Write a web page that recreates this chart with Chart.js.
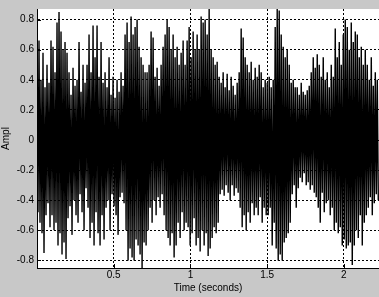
<!DOCTYPE html>
<html>
<head>
<meta charset="utf-8">
<script src="https://cdn.jsdelivr.net/npm/chart.js@4/dist/chart.umd.min.js"></script>
<style>
  html, body { margin: 0; padding: 0; background: #c8c8c8; }
  #chart { display: block; }
</style>
</head>
<body>
<canvas id="chart" width="379" height="297"></canvas>
<script>
// waveform, one sample per screen column (downsampled)
const sampleRate = 153.3; // samples per second in this view
const ampl = [
  0.62, -0.48, 0.66, -0.55, 0.4, -0.62, 0.58, -0.75, 0.35, -0.5,
  0.5, -0.42, 0.38, -0.58, 0.66, -0.5, 0.62, -0.6, 0.45, -0.55,
  0.78, -0.7, 0.85, -0.62, 0.72, -0.76, 0.6, -0.68, 0.65, -0.79,
  0.58, -0.52, 0.45, -0.44, 0.3, -0.63, 0.48, -0.4, 0.36, -0.5,
  0.4, -0.55, 0.65, -0.36, 0.32, -0.48, 0.5, -0.6, 0.38, -0.32,
  0.5, -0.45, 0.7, -0.65, 0.45, -0.55, 0.76, -0.7, 0.55, -0.48,
  0.76, -0.62, 0.42, -0.7, 0.65, -0.5, 0.38, -0.66, 0.45, -0.45,
  0.35, -0.4, 0.55, -0.6, 0.3, -0.36, 0.42, -0.44, 0.28, -0.5,
  0.4, -0.63, 0.32, -0.38, 0.45, -0.35, 0.36, -0.42, 0.7, -0.6,
  0.78, -0.8, 0.65, -0.72, 0.82, -0.78, 0.7, -0.8, 0.75, -0.66,
  0.8, -0.7, 0.62, -0.76, 0.55, -0.86, 0.5, -0.68, 0.45, -0.7,
  0.45, -0.6, 0.5, -0.45, 0.72, -0.55, 0.68, -0.4, 0.42, -0.5,
  0.48, -0.38, 0.36, -0.45, 0.5, -0.36, 0.62, -0.5, 0.7, -0.6,
  0.8, -0.65, 0.75, -0.7, 0.6, -0.62, 0.7, -0.78, 0.55, -0.7,
  0.62, -0.55, 0.5, -0.65, 0.58, -0.48, 0.66, -0.6, 0.5, -0.55,
  0.66, -0.58, 0.75, -0.7, 0.55, -0.62, 0.72, -0.52, 0.6, -0.7,
  0.7, -0.65, 0.6, -0.74, 0.82, -0.6, 0.78, -0.7, 0.8, -0.62,
  0.7, -0.77, 0.87, -0.72, 0.6, -0.65, 0.55, -0.58, 0.5, -0.62,
  0.52, -0.55, 0.42, -0.36, 0.38, -0.33, 0.45, -0.37, 0.35, -0.3,
  0.44, -0.35, 0.33, -0.4, 0.42, -0.3, 0.36, -0.37, 0.3, -0.32,
  0.38, -0.35, 0.45, -0.45, 0.74, -0.58, 0.68, -0.5, 0.55, -0.6,
  0.5, -0.48, 0.45, -0.55, 0.52, -0.42, 0.4, -0.5, 0.48, -0.45,
  0.42, -0.5, 0.5, -0.38, 0.45, -0.55, 0.35, -0.45, 0.4, -0.5,
  0.38, -0.5, 0.42, -0.45, 0.35, -0.7, 0.4, -0.55, 0.75, -0.72,
  0.87, -0.8, 0.86, -0.76, 0.7, -0.8, 0.62, -0.68, 0.55, -0.65,
  0.6, -0.62, 0.5, -0.55, 0.38, -0.36, 0.4, -0.3, 0.35, -0.45,
  0.35, -0.32, 0.3, -0.25, 0.38, -0.28, 0.32, -0.22, 0.3, -0.3,
  0.33, -0.28, 0.36, -0.33, 0.45, -0.3, 0.55, -0.35, 0.48, -0.38,
  0.57, -0.45, 0.5, -0.55, 0.42, -0.35, 0.55, -0.48, 0.4, -0.42,
  0.45, -0.4, 0.35, -0.5, 0.5, -0.45, 0.42, -0.6, 0.74, -0.55,
  0.55, -0.62, 0.65, -0.58, 0.5, -0.7, 0.7, -0.66, 0.8, -0.72,
  0.75, -0.7, 0.6, -0.68, 0.78, -0.83, 0.65, -0.7, 0.72, -0.6,
  0.7, -0.65, 0.55, -0.5, 0.62, -0.7, 0.5, -0.55, 0.6, -0.5,
  0.5, -0.45, 0.4, -0.38, 0.55, -0.5, 0.36, -0.42, 0.45, -0.36,
  0.4, -0.4,
];
const xTicks = [0.5, 1, 1.5, 2];
const yTicks = [-0.8, -0.6, -0.4, -0.2, 0, 0.2, 0.4, 0.6, 0.8];

const font = { family: "'Liberation Sans', Arial, sans-serif", size: 10 };

// white axes box behind the data
const plotBg = {
  id: 'plotBg',
  beforeDraw(chart) {
    const { ctx, chartArea: a } = chart;
    ctx.save();
    ctx.fillStyle = '#fff';
    ctx.fillRect(a.left, a.top, a.right - a.left, a.bottom - a.top);
    ctx.restore();
  },
};

// small inward tick marks, matlab style
const innerTicks = {
  id: 'innerTicks',
  afterDraw(chart) {
    const { ctx, chartArea: a, scales } = chart;
    ctx.save();
    ctx.strokeStyle = '#000';
    ctx.lineWidth = 1;
    ctx.beginPath();
    for (const v of yTicks) {
      const y = Math.round(scales.y.getPixelForValue(v)) + 0.5;
      ctx.moveTo(a.left, y);
      ctx.lineTo(a.left + 4, y);
    }
    for (const v of xTicks) {
      const x = Math.round(scales.x.getPixelForValue(v)) + 0.5;
      ctx.moveTo(x, a.bottom);
      ctx.lineTo(x, a.bottom - 4);
    }
    ctx.stroke();
    ctx.restore();
  },
};

const canvas = document.querySelector('#chart');
// eslint-disable-next-line no-undef
new Chart(canvas.getContext('2d'), {
  type: 'line',
  data: {
    datasets: [
      {
        data: ampl.map((y, i) => ({ x: i / sampleRate, y })),
        borderColor: '#000',
        borderWidth: 1.4,
        pointRadius: 0,
        tension: 0,
        fill: false,
      },
    ],
  },
  options: {
    responsive: false,
    animation: false,
    parsing: false,
    layout: { padding: { top: 1, left: 0, right: 0, bottom: 0 } },
    plugins: { legend: { display: false }, tooltip: { enabled: false } },
    scales: {
      x: {
        type: 'linear',
        min: 0,
        max: 2.229,
        afterBuildTicks: (s) => {
          s.ticks = xTicks.map((v) => ({ value: v }));
        },
        afterFit: (s) => {
          s.height = 29;
        },
        grid: { color: '#000', lineWidth: 1, drawTicks: false },
        border: { display: true, color: '#000', width: 1, dash: [2, 2] },
        ticks: {
          padding: 1,
          color: '#000',
          font,
          maxRotation: 0,
          autoSkip: false,
          callback: (v) => String(v),
        },
        title: {
          display: true,
          text: 'Time (seconds)',
          color: '#000',
          font,
          padding: { top: 0, bottom: 3 },
        },
      },
      y: {
        type: 'linear',
        min: -0.85,
        max: 0.87,
        afterBuildTicks: (s) => {
          s.ticks = yTicks.map((v) => ({ value: v }));
        },
        afterFit: (s) => {
          s.width = 37;
        },
        grid: { color: '#000', lineWidth: 1, drawTicks: false },
        border: { display: true, color: '#000', width: 1, dash: [2, 2] },
        ticks: {
          padding: 3,
          color: '#000',
          font,
          autoSkip: false,
          callback: (v) => String(v),
        },
        title: {
          display: true,
          text: 'Ampl',
          color: '#000',
          font,
          padding: { top: 0, bottom: 0 },
        },
      },
    },
  },
  plugins: [plotBg, innerTicks],
});
</script>
</body>
</html>
